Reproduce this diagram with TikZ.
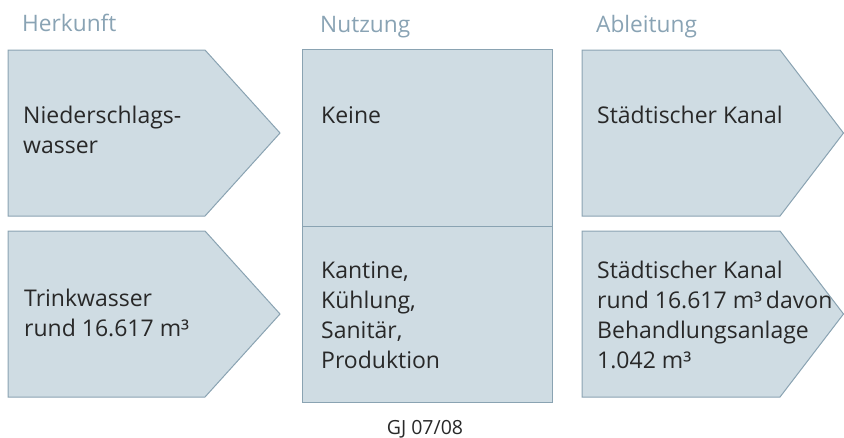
\documentclass[tikz,border=0pt]{standalone}
\usepackage{fontspec}
\setmainfont{Open Sans}
\usetikzlibrary{positioning}

\definecolor{boxfill}{RGB}{207,220,227}
\definecolor{boxline}{RGB}{138,163,178}
\definecolor{headtext}{RGB}{137,163,180}
\definecolor{bodytext}{RGB}{40,40,40}

\begin{document}
\begin{tikzpicture}[x=1pt, y=-1pt,
        box/.style={fill=boxfill, draw=boxline, line width=1pt},
        boxtext/.style={anchor=base west, inner sep=0pt, text=bodytext,
            font=\fontsize{23}{30}\selectfont},
        coltitle/.style={anchor=base west, inner sep=0pt, text=headtext,
            font=\fontsize{22.7}{30}\selectfont}]
    \useasboundingbox (0,0) rectangle (844,437);

    % Herkunft
    \draw[box] (8,50) -- (205,50) -- (280,133) -- (205,216) -- (8,216) -- cycle;
    \draw[box] (8,231) -- (205,231) -- (280,314) -- (205,397) -- (8,397) -- cycle;

    % Nutzung
    \draw[box] (302,49) rectangle (552,402);
    \draw[box] (302,226) -- (552,226);

    % Ableitung
    \draw[box] (582,50) -- (780,50) -- (843.5,133) -- (780,216) -- (582,216) -- cycle;
    \draw[box] (582,231) -- (780,231) -- (843.5,314) -- (780,397) -- (582,397) -- cycle;

    \node[coltitle] (herkunft)  at (22,31)  {Herkunft};
    \node[coltitle] (nutzung)   at (320,32) {Nutzung};
    \node[coltitle] (ableitung) at (596,32) {Ableitung};

    \node[boxtext] (niederschlag) at (23,123) {
        \begin{tabular}[t]{@{}l@{}}
            Niederschlags- \\
            wasser         \\
        \end{tabular}
    };
    \node[boxtext] (keine) at (321,123) {Keine};
    \node[boxtext] (kanal) at (597,123) {Städtischer Kanal};

    \node[boxtext] (trinkwasser) at (24,306) {
        \begin{tabular}[t]{@{}l@{}}
            Trinkwasser      \\
            rund 16.617 m³   \\
        \end{tabular}
    };
    \node[boxtext] (verbrauch) at (321,278) {
        \begin{tabular}[t]{@{}l@{}}
            Kantine,    \\
            Kühlung,    \\
            Sanitär,    \\
            Produktion  \\
        \end{tabular}
    };
    \node[boxtext] (abwasser) at (597,278) {
        \begin{tabular}[t]{@{}l@{}}
            Städtischer Kanal      \\
            rund 16.617 m³\,davon  \\
            Behandlungsanlage      \\
            1.042 m³               \\
        \end{tabular}
    };

    \node[anchor=base, inner sep=0pt, text=bodytext,
        font=\fontsize{19.5}{22}\selectfont] (jahr) at (425,434) {GJ 07/08};
\end{tikzpicture}
\end{document}
